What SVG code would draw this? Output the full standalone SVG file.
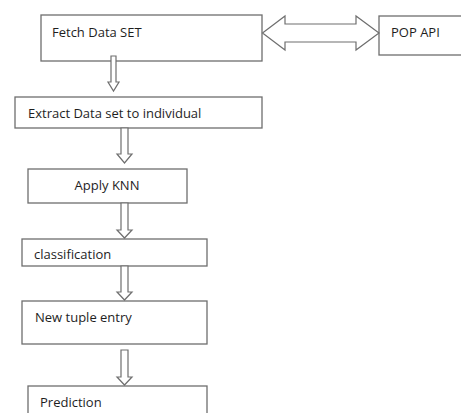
<svg xmlns="http://www.w3.org/2000/svg" width="461" height="413" viewBox="0 0 461 413">
<style>
.box{fill:#fff;stroke:#6e6e6e;stroke-width:1.3}
.arr{fill:#fff;stroke:#6e6e6e;stroke-width:1.2;stroke-linejoin:miter}
text{font-family:"Open Sans","Liberation Sans",Arial,sans-serif;font-size:13px;fill:#1e1e1e}
</style>
<rect width="461" height="413" fill="#fff"/>
<g id="fetch"><rect class="box" x="41" y="15" width="221" height="46"/><text x="52" y="37">Fetch Data SET</text></g>
<g id="popapi"><rect class="box" x="379" y="16" width="90" height="39"/><text x="391" y="37">POP API</text></g>
<g id="extract"><rect class="box" x="15" y="97" width="247" height="31"/><text x="28" y="118">Extract Data set to individual</text></g>
<g id="knn"><rect class="box" x="28" y="169" width="159" height="34"/><text x="107" y="190" text-anchor="middle">Apply KNN</text></g>
<g id="classification"><rect class="box" x="22" y="239" width="185" height="27"/><text x="34" y="259">classification</text></g>
<g id="newtuple"><rect class="box" x="22" y="301" width="185" height="43"/><text x="35" y="322">New tuple entry</text></g>
<g id="prediction"><rect class="box" x="28" y="386" width="179" height="40"/><text x="40" y="407">Prediction</text></g>
<g id="connectors">
<polygon class="arr" points="262.5,33 285,16 285,24 356,24 356,16 379,33 356,50 356,42 285,42 285,50"/>
<polygon class="arr" points="111,56 116,56 116,82 119,82 113.5,91 108,82 111,82"/>
<polygon class="arr" points="121,128 128,128 128,154 132,154 124.5,163 117,154 121,154"/>
<polygon class="arr" points="121,203 128,203 128,230 132,230 124.5,238 117,230 121,230"/>
<polygon class="arr" points="121,266 128,266 128,292 132,292 124.5,300 117,292 121,292"/>
<polygon class="arr" points="121,350 128,350 128,377 132,377 124.5,385 117,377 121,377"/>
</g>
</svg>
